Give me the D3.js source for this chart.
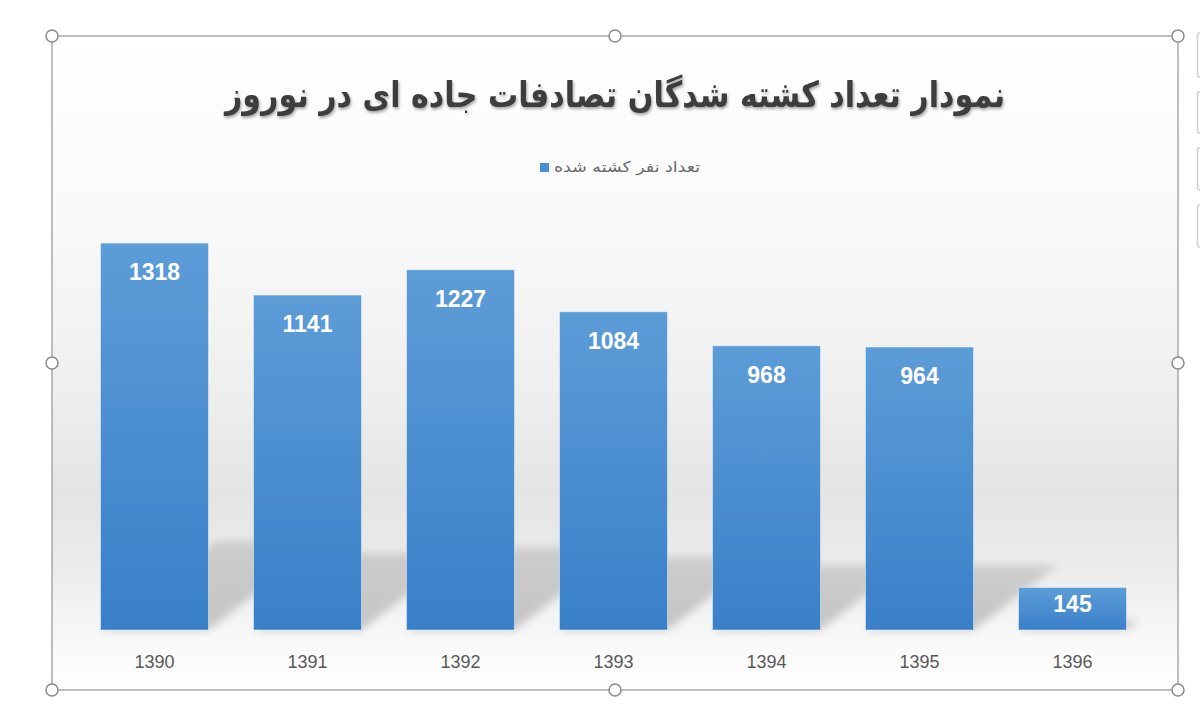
<!DOCTYPE html>
<html>
<head>
<meta charset="utf-8">
<script src="https://cdn.jsdelivr.net/npm/d3@7"></script>
<style>
  html, body { margin: 0; padding: 0; background: #ffffff; }
  svg { display: block; }
</style>
</head>
<body>
<div id="chart"></div>
<script>
// data
const categories = ["1390", "1391", "1392", "1393", "1394", "1395", "1396"];
const values = [1318, 1141, 1227, 1084, 968, 964, 145];
const titleText = "نمودار تعداد کشته شدگان تصادفات جاده ای در نوروز";
const legendLabel = "تعداد نفر کشته شده";
const yMax = 1400;

const W = 1200, H = 712;
const frame = {x: 52, y: 36, w: 1126, h: 654};
const baseY = 630;

const svg = d3.select("#chart").append("svg")
  .attr("width", W)
  .attr("height", H);

const defs = svg.append("defs");

// background of the chart area: white -> grey floor band -> white
const bg = defs.append("linearGradient").attr("id", "bgGrad")
  .attr("x1", 0).attr("y1", 0).attr("x2", 0).attr("y2", 1);
[[0, "#ffffff"], [0.3, "#f9f9f9"], [0.55, "#eeeeee"], [0.7, "#e4e4e4"], [0.82, "#ececec"], [0.92, "#f8f8f8"], [1, "#ffffff"]]
  .forEach(s => bg.append("stop").attr("offset", s[0]).attr("stop-color", s[1]));

const barGrad = defs.append("linearGradient").attr("id", "barGrad")
  .attr("x1", 0).attr("y1", 0).attr("x2", 0).attr("y2", 1);
barGrad.append("stop").attr("offset", 0).attr("stop-color", "#5c9cd7");
barGrad.append("stop").attr("offset", 1).attr("stop-color", "#3a80c9");

const shGrad = defs.append("linearGradient").attr("id", "shGrad")
  .attr("x1", 0).attr("y1", 0).attr("x2", 0).attr("y2", 1);
shGrad.append("stop").attr("offset", 0).attr("stop-color", "#c8c8c8");
shGrad.append("stop").attr("offset", 1).attr("stop-color", "#bcbcbc");

defs.append("filter").attr("id", "blur")
  .attr("x", "-30%").attr("y", "-30%").attr("width", "160%").attr("height", "160%")
  .append("feGaussianBlur").attr("stdDeviation", 4);

const ts = defs.append("filter").attr("id", "titleShadow")
  .attr("x", "-5%").attr("y", "-30%").attr("width", "110%").attr("height", "160%");
ts.append("feDropShadow").attr("dx", 1).attr("dy", 2).attr("stdDeviation", 1.5)
  .attr("flood-color", "#000").attr("flood-opacity", 0.35);

// chart area
svg.append("rect")
  .attr("x", frame.x).attr("y", frame.y)
  .attr("width", frame.w).attr("height", frame.h)
  .attr("fill", "url(#bgGrad)");

// scales
const x = d3.scaleBand()
  .domain(categories)
  .range([78, 1149])
  .paddingInner(0.294)
  .paddingOuter(0.147);

const y = d3.scaleLinear()
  .domain([0, yMax])
  .range([baseY, 219]);

const rows = categories.map((c, i) => ({cat: c, val: values[i]}));

// perspective shadows behind the bars
svg.append("g").attr("class", "shadows")
  .attr("filter", "url(#blur)")
  .selectAll("path")
  .data(rows)
  .enter().append("path")
  .attr("d", function(d) {
    let x0 = x(d.cat), x1 = x0 + x.bandwidth();
    let sh = (baseY - y(d.val)) * 0.23;
    let dx = sh * 1.3;
    return "M" + x0 + "," + baseY + "L" + x1 + "," + baseY +
      "L" + (x1 + dx) + "," + (baseY - sh) + "L" + (x0 + dx) + "," + (baseY - sh) + "Z";
  })
  .attr("fill", "url(#shGrad)")
  .attr("opacity", 0.85);

// bars
svg.append("g").attr("class", "bars")
  .selectAll("rect")
  .data(rows)
  .enter().append("rect")
  .attr("x", d => x(d.cat))
  .attr("y", d => y(d.val))
  .attr("width", x.bandwidth())
  .attr("height", d => baseY - y(d.val))
  .attr("fill", "url(#barGrad)")
  .attr("stroke", "rgba(255,255,255,0.45)")
  .attr("stroke-width", 1);

// value labels inside bars (inside end, short bars get a smaller offset)
svg.append("g").attr("class", "labels")
  .selectAll("text")
  .data(rows)
  .enter().append("text")
  .attr("x", d => x(d.cat) + x.bandwidth() / 2)
  .attr("y", function(d) {
    let off = Math.min(29, (baseY - y(d.val)) / 2 - 5);
    return y(d.val) + off + 8;
  })
  .attr("text-anchor", "middle")
  .attr("font-family", "'Liberation Sans', Arial, sans-serif")
  .attr("font-weight", "bold")
  .attr("font-size", "23px")
  .attr("fill", "#ffffff")
  .text(d => d.val);

// category axis
const xAxis = svg.append("g")
  .attr("class", "x-axis")
  .attr("transform", "translate(0," + baseY + ")")
  .call(d3.axisBottom(x).tickSize(0).tickPadding(25));
xAxis.select(".domain").remove();
xAxis.selectAll("text")
  .attr("font-family", "'Liberation Sans', Arial, sans-serif")
  .attr("font-size", "18px")
  .attr("fill", "#595959");

// title
svg.append("text")
  .attr("x", 615)
  .attr("y", 107)
  .attr("text-anchor", "middle")
  .attr("direction", "rtl")
  .attr("font-family", "'DejaVu Sans', sans-serif")
  .attr("font-weight", "bold")
  .attr("font-size", "36px")
  .attr("textLength", 780)
  .attr("lengthAdjust", "spacingAndGlyphs")
  .attr("fill", "#3c3c3c")
  .attr("filter", "url(#titleShadow)")
  .text(titleText);

// legend
svg.append("rect")
  .attr("x", 540).attr("y", 163)
  .attr("width", 9).attr("height", 9)
  .attr("fill", "#4a8ed3");
svg.append("text")
  .attr("x", 554)
  .attr("y", 172)
  .attr("text-anchor", "start")
  .attr("font-family", "'DejaVu Sans', sans-serif")
  .attr("font-size", "15px")
  .attr("textLength", 146)
  .attr("lengthAdjust", "spacingAndGlyphs")
  .attr("fill", "#6a6a6a")
  .text(legendLabel);

// selection frame with handles
svg.append("rect")
  .attr("x", frame.x).attr("y", frame.y)
  .attr("width", frame.w).attr("height", frame.h)
  .attr("fill", "none")
  .attr("stroke", "#a9a9a9")
  .attr("stroke-width", 1.5);

const handles = [
  [frame.x, frame.y], [frame.x + frame.w / 2, frame.y], [frame.x + frame.w, frame.y],
  [frame.x, frame.y + frame.h / 2], [frame.x + frame.w, frame.y + frame.h / 2],
  [frame.x, frame.y + frame.h], [frame.x + frame.w / 2, frame.y + frame.h], [frame.x + frame.w, frame.y + frame.h]
];
svg.append("g").selectAll("circle")
  .data(handles)
  .enter().append("circle")
  .attr("cx", d => d[0]).attr("cy", d => d[1])
  .attr("r", 6)
  .attr("fill", "#ffffff")
  .attr("stroke", "#8a8a8a")
  .attr("stroke-width", 1.5);

// partial toolbar buttons at the right edge
const sideButtons = [[33, 77], [92, 133], [148, 190], [205, 247]];
svg.append("g").selectAll("rect")
  .data(sideButtons)
  .enter().append("rect")
  .attr("x", 1197.5).attr("y", d => d[0])
  .attr("width", 10).attr("height", d => d[1] - d[0])
  .attr("rx", 2)
  .attr("fill", "#ffffff")
  .attr("stroke", "#cfcfcf")
  .attr("stroke-width", 1.5);
</script>
</body>
</html>
